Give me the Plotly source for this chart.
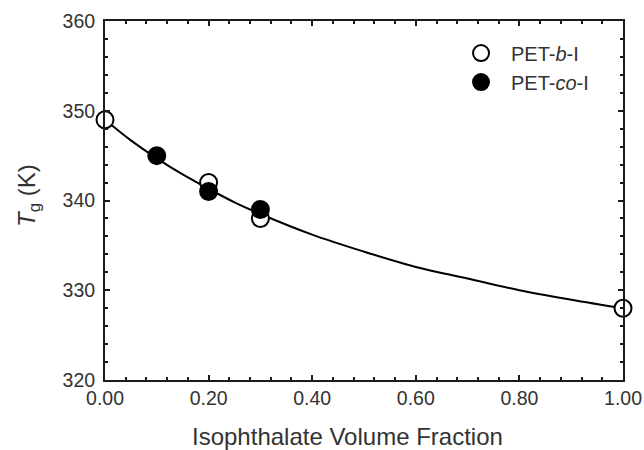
import plotly.graph_objects as go

# Data
b_x = [0.0, 0.2, 0.3, 1.0]
b_y = [349, 342, 338, 328]
co_x = [0.1, 0.2, 0.3]
co_y = [345, 341, 339]

# Fitted curve
fit_x = [0.0, 0.05, 0.1, 0.15, 0.2, 0.25, 0.3, 0.4, 0.5, 0.6, 0.7, 0.8, 0.9, 1.0]
fit_y = [349.0, 346.7, 344.7, 342.9, 341.3, 339.8, 338.5, 336.2, 334.3, 332.6, 331.3, 330.0, 328.95, 328.0]

x_ticks = [0.0, 0.2, 0.4, 0.6, 0.8, 1.0]
x_ticklabels = ["0.00", "0.20", "0.40", "0.60", "0.80", "1.00"]
y_ticks = [320, 330, 340, 350, 360]

FONT = "Arial, Liberation Sans, sans-serif"
TXT = "#333333"
LINE = "#1a1a1a"

fig = go.Figure()
fig.add_trace(go.Scatter(x=fit_x, y=fit_y, mode="lines", line=dict(color="black", width=2, shape="spline"),
                         showlegend=False, hoverinfo="skip", cliponaxis=False))
fig.add_trace(go.Scatter(x=b_x, y=b_y, mode="markers", name="PET-<i>b</i>-I",
                         marker=dict(symbol="circle", size=17, color="white", line=dict(color="black", width=2)),
                         cliponaxis=False))
fig.add_trace(go.Scatter(x=co_x, y=co_y, mode="markers", name="PET-<i>co</i>-I",
                         marker=dict(symbol="circle", size=17, color="black", line=dict(color="black", width=2)),
                         cliponaxis=False))

axis_common = dict(showline=True, linecolor=LINE, linewidth=2, mirror="allticks", ticks="inside",
                   ticklen=5, tickwidth=1.5, tickcolor=LINE, showgrid=False, zeroline=False,
                   automargin=False,
                   tickfont=dict(family=FONT, size=19.5, color=TXT))

fig.update_layout(
    width=644, height=450,
    margin=dict(l=105, r=21, t=21, b=70),
    paper_bgcolor="white", plot_bgcolor="white",
    font=dict(family=FONT, color=TXT),
    xaxis=dict(range=[0, 1], tickvals=x_ticks, ticktext=x_ticklabels,
               minor=dict(dtick=0.04, ticks="inside", ticklen=3, tickcolor=LINE, tickwidth=1.5),
               **axis_common),
    yaxis=dict(range=[320, 360], tickvals=y_ticks, ticklabelstandoff=4,
               minor=dict(dtick=2, ticks="inside", ticklen=3, tickcolor=LINE, tickwidth=1.5),
               **axis_common),
    legend=dict(x=0.668, y=0.965, xanchor="left", yanchor="top", bgcolor="rgba(0,0,0,0)",
                font=dict(family=FONT, size=20, color=TXT), itemwidth=50, tracegroupgap=0),
    annotations=[
        dict(text="Isophthalate Volume Fraction", xref="paper", yref="paper", x=0.469, y=-0.113,
             xanchor="center", yanchor="top", showarrow=False,
             font=dict(family=FONT, size=24, color=TXT)),
        dict(text="<i>T</i><sub>g</sub> (K)", xref="paper", yref="paper", x=-0.115, y=0.515,
             xanchor="right", yanchor="middle", textangle=-90, showarrow=False,
             font=dict(family=FONT, size=24, color=TXT)),
    ],
)

fig.write_html("out.html")
